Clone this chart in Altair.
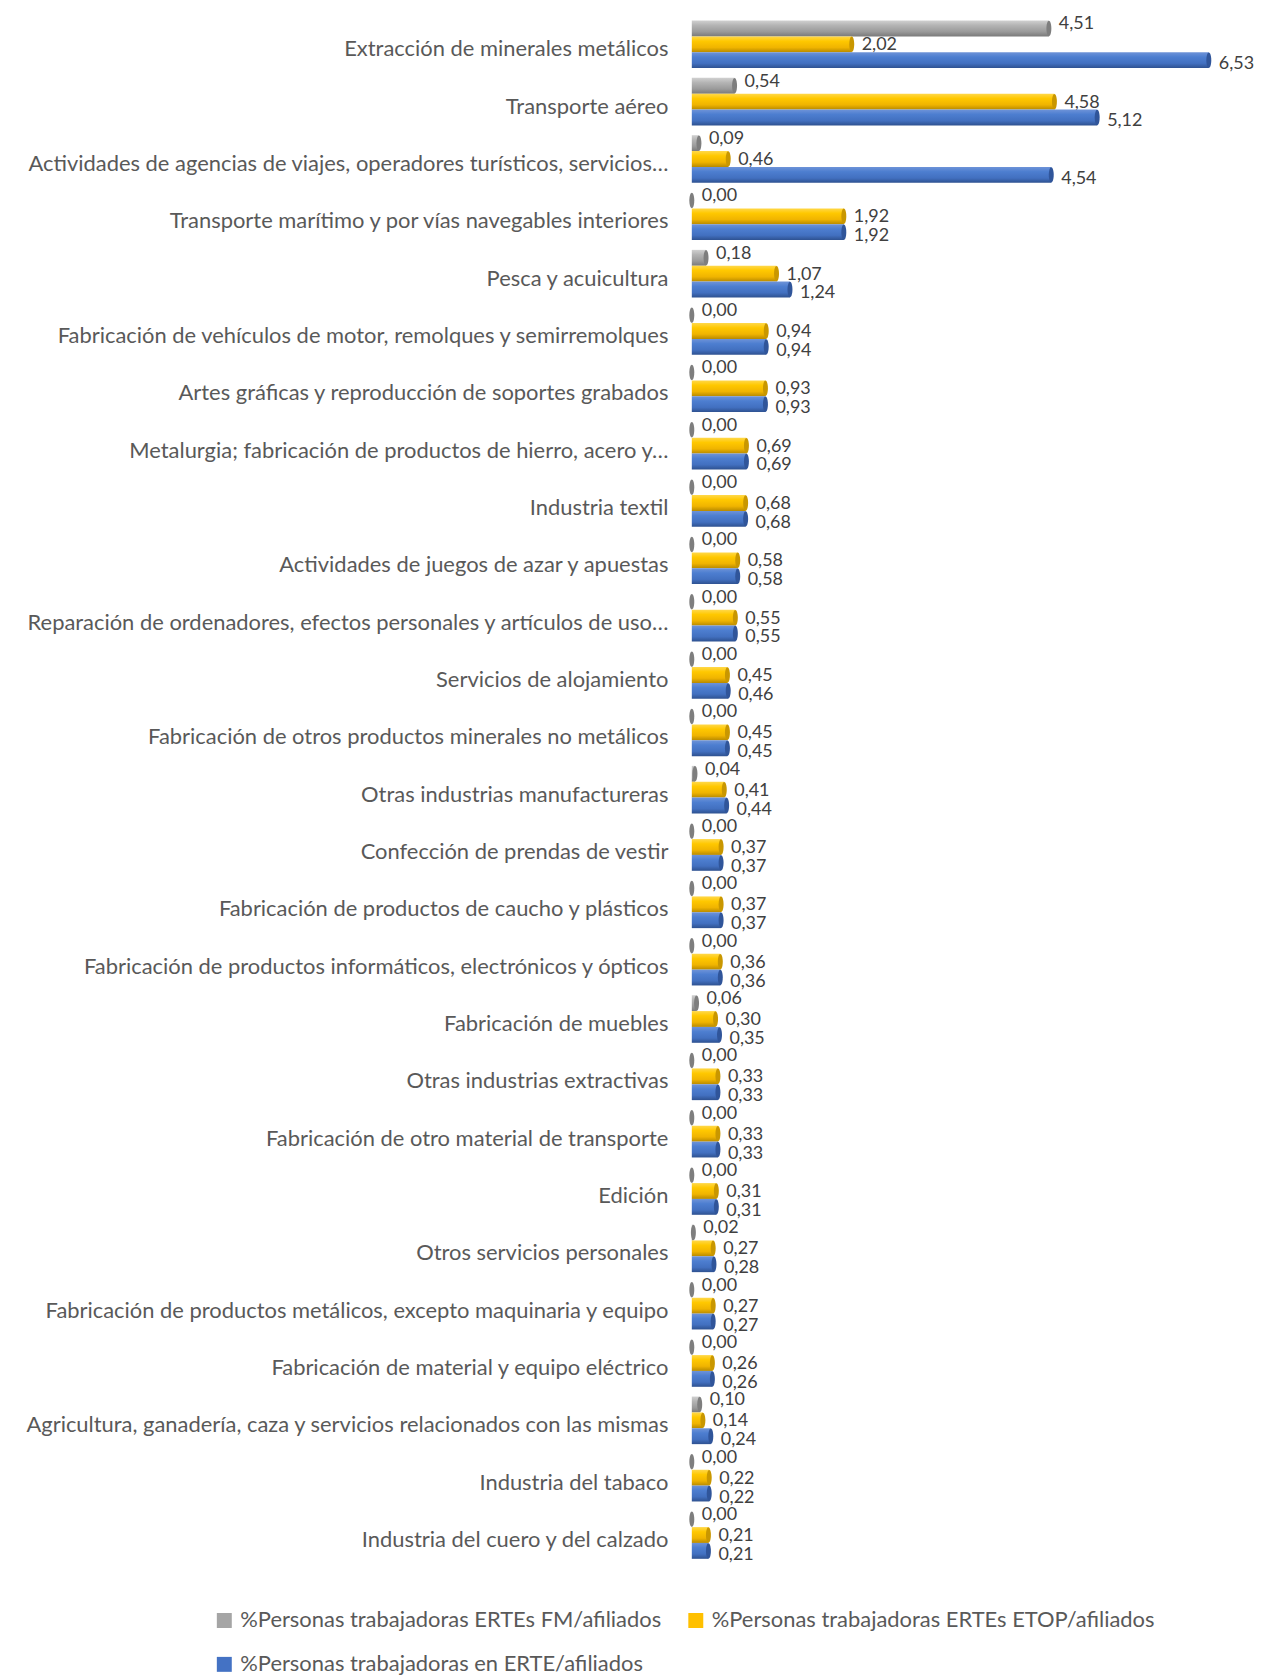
import altair as alt
import pandas as pd

categories = [
    "Extracción de minerales metálicos",
    "Transporte aéreo",
    "Actividades de agencias de viajes, operadores turísticos, servicios…",
    "Transporte marítimo y por vías navegables interiores",
    "Pesca y acuicultura",
    "Fabricación de vehículos de motor, remolques y semirremolques",
    "Artes gráficas y reproducción de soportes grabados",
    "Metalurgia; fabricación de productos de hierro, acero y…",
    "Industria textil",
    "Actividades de juegos de azar y apuestas",
    "Reparación de ordenadores, efectos personales y artículos de uso…",
    "Servicios de alojamiento",
    "Fabricación de otros productos minerales no metálicos",
    "Otras industrias manufactureras",
    "Confección de prendas de vestir",
    "Fabricación de productos de caucho y plásticos",
    "Fabricación de productos informáticos, electrónicos y ópticos",
    "Fabricación de muebles",
    "Otras industrias extractivas",
    "Fabricación de otro material de transporte",
    "Edición",
    "Otros servicios personales",
    "Fabricación de productos metálicos, excepto maquinaria y equipo",
    "Fabricación de material y equipo eléctrico",
    "Agricultura, ganadería, caza y servicios relacionados con las mismas",
    "Industria del tabaco",
    "Industria del cuero y del calzado",
]

fm = [4.51, 0.54, 0.09, 0.00, 0.18, 0.00, 0.00, 0.00, 0.00, 0.00, 0.00, 0.00, 0.00,
      0.04, 0.00, 0.00, 0.00, 0.06, 0.00, 0.00, 0.00, 0.02, 0.00, 0.00, 0.10, 0.00, 0.00]
etop = [2.02, 4.58, 0.46, 1.92, 1.07, 0.94, 0.93, 0.69, 0.68, 0.58, 0.55, 0.45, 0.45,
        0.41, 0.37, 0.37, 0.36, 0.30, 0.33, 0.33, 0.31, 0.27, 0.27, 0.26, 0.14, 0.22, 0.21]
erte = [6.53, 5.12, 4.54, 1.92, 1.24, 0.94, 0.93, 0.69, 0.68, 0.58, 0.55, 0.46, 0.45,
        0.44, 0.37, 0.37, 0.36, 0.35, 0.33, 0.33, 0.31, 0.28, 0.27, 0.26, 0.24, 0.22, 0.21]

series_names = [
    "%Personas trabajadoras ERTEs FM/afiliados",
    "%Personas trabajadoras ERTEs ETOP/afiliados",
    "%Personas trabajadoras en ERTE/afiliados",
]
base_colors = ["#A5A5A5", "#FFC000", "#4472C4"]
grad_stops = [
    ["#D0D0D0", "#B4B4B4", "#9A9A9A", "#7A7A7A"],
    ["#FFD84A", "#FFC800", "#F0B400", "#B88A00"],
    ["#6E93D8", "#4D7ED0", "#4270C0", "#2E5190"],
]
cap_colors = ["#7E7E7E", "#C99700", "#30559A"]
label_dy = [-4, 1, 4]

rows = []
for i, c in enumerate(categories):
    for s, vals in zip(series_names, [fm, etop, erte]):
        v = vals[i]
        rows.append({"cat": c, "serie": s, "val": v,
                     "label": f"{v:.2f}".replace(".", ",")})
df = pd.DataFrame(rows)

FONT = "Lato"

y_enc = alt.Y("cat:N", sort=categories, title=None,
              scale=alt.Scale(paddingInner=0.17, paddingOuter=0.085),
              axis=alt.Axis(ticks=False, domain=False, labelPadding=24, labelOffset=5,
                            labelFont=FONT, labelFontSize=22, labelColor="#595959",
                            labelLimit=700))
yoff = alt.YOffset("serie:N", sort=series_names,
                   scale=alt.Scale(domain=series_names, paddingInner=0, paddingOuter=0))
x_enc = alt.X("val:Q", axis=None, scale=alt.Scale(domain=[0, 7], nice=False))

cap_path = "M0,-1 A0.32,1 0 1,1 0,1 A0.32,1 0 1,1 0,-1 Z"

base = alt.Chart(df)
layers = []
for k, s in enumerate(series_names):
    g = grad_stops[k]
    grad = alt.LinearGradient(
        gradient="linear", x1=0, x2=0, y1=0, y2=1,
        stops=[alt.GradientStop(color=g[0], offset=0),
               alt.GradientStop(color=g[1], offset=0.3),
               alt.GradientStop(color=g[2], offset=0.7),
               alt.GradientStop(color=g[3], offset=1)])
    sub = base.transform_filter(alt.datum.serie == s)
    layers.append(sub.mark_bar(color=grad).encode(x=x_enc, y=y_enc, yOffset=yoff))
    layers.append(sub.mark_point(shape=cap_path, filled=True, size=240,
                                 color=cap_colors[k], opacity=1)
                  .encode(x=x_enc, y=y_enc, yOffset=yoff))
    layers.append(sub.mark_text(align="left", baseline="middle", dx=10, dy=label_dy[k],
                                font=FONT, fontSize=18, color="#404040")
                  .encode(x=x_enc, y=y_enc, yOffset=yoff, text="label:N"))

legend_layer = base.mark_point(shape="square", filled=True, opacity=0, size=0).encode(
    x=x_enc, y=y_enc, yOffset=yoff,
    color=alt.Color("serie:N", sort=series_names,
                    scale=alt.Scale(domain=series_names, range=base_colors),
                    legend=alt.Legend(orient="none", legendX=-480, legendY=1599,
                                      direction="horizontal",
                                      columns=2, title=None, labelFont=FONT,
                                      labelFontSize=22, labelColor="#595959",
                                      symbolType="square", symbolSize=225,
                                      symbolOpacity=1, symbolStrokeWidth=0,
                                      columnPadding=23, rowPadding=22,
                                      labelOffset=5, labelLimit=600)))

chart = alt.layer(*layers, legend_layer).properties(
    width=556, height=1553,
    background="white",
    autosize=alt.AutoSizeParams(type="none"),
    padding={"left": 686, "top": 5, "right": 8, "bottom": 110},
).configure_view(stroke=None, strokeWidth=0)

chart.save("out.html", embed_options={"renderer": "svg", "actions": False})
